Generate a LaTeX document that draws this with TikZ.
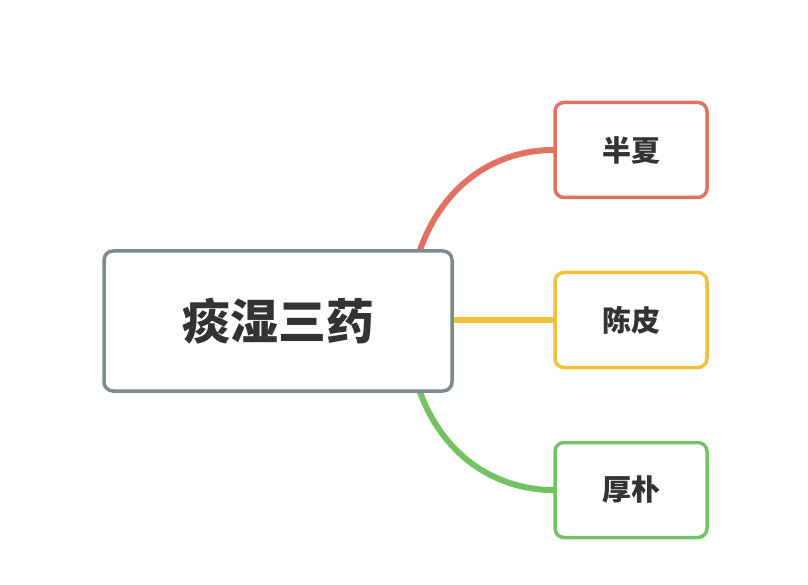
\documentclass[tikz,border=0pt]{standalone}
\usepackage{fontspec}
\newfontfamily\cjk{Noto Sans CJK SC}
\definecolor{cgray}{HTML}{7F8A90}
\definecolor{cred}{HTML}{E07262}
\definecolor{cyel}{HTML}{F2C13A}
\definecolor{cgrn}{HTML}{74C264}
\definecolor{ctxt}{HTML}{333333}
\begin{document}
\begin{tikzpicture}[x=1pt,y=-1pt,
  box/.style={draw,rounded corners=9pt,line width=3.5pt,fill=white,inner sep=0pt,text=ctxt},
  conn/.style={line width=6pt,line cap=round}]
\useasboundingbox (0,0) rectangle (808,585);
\coordinate (c1) at (420,250);
\coordinate (c3) at (420,392);
\coordinate (ce) at (452,320);
\node[box,draw=cred,minimum width=152pt,minimum height=95pt] (a) at (631,150)
  {\cjk\bfseries\fontsize{29}{32}\selectfont 半夏};
\node[box,draw=cyel,minimum width=152pt,minimum height=95pt] (b) at (631,320)
  {\cjk\bfseries\fontsize{29}{32}\selectfont 陈皮};
\node[box,draw=cgrn,minimum width=152pt,minimum height=95pt] (d) at (631,490)
  {\cjk\bfseries\fontsize{29}{32}\selectfont 厚朴};
\draw[conn,cred] (c1) .. controls (445,180) and (500,150) .. (a.west);
\draw[conn,cyel] (ce) -- (b.west);
\draw[conn,cgrn] (c3) .. controls (445,460) and (500,490) .. (d.west);
\node[box,draw=cgray,minimum width=348pt,minimum height=140pt] (c) at (278,321)
  {\cjk\bfseries\fontsize{48}{52}\selectfont 痰湿三药};
\end{tikzpicture}
\end{document}
